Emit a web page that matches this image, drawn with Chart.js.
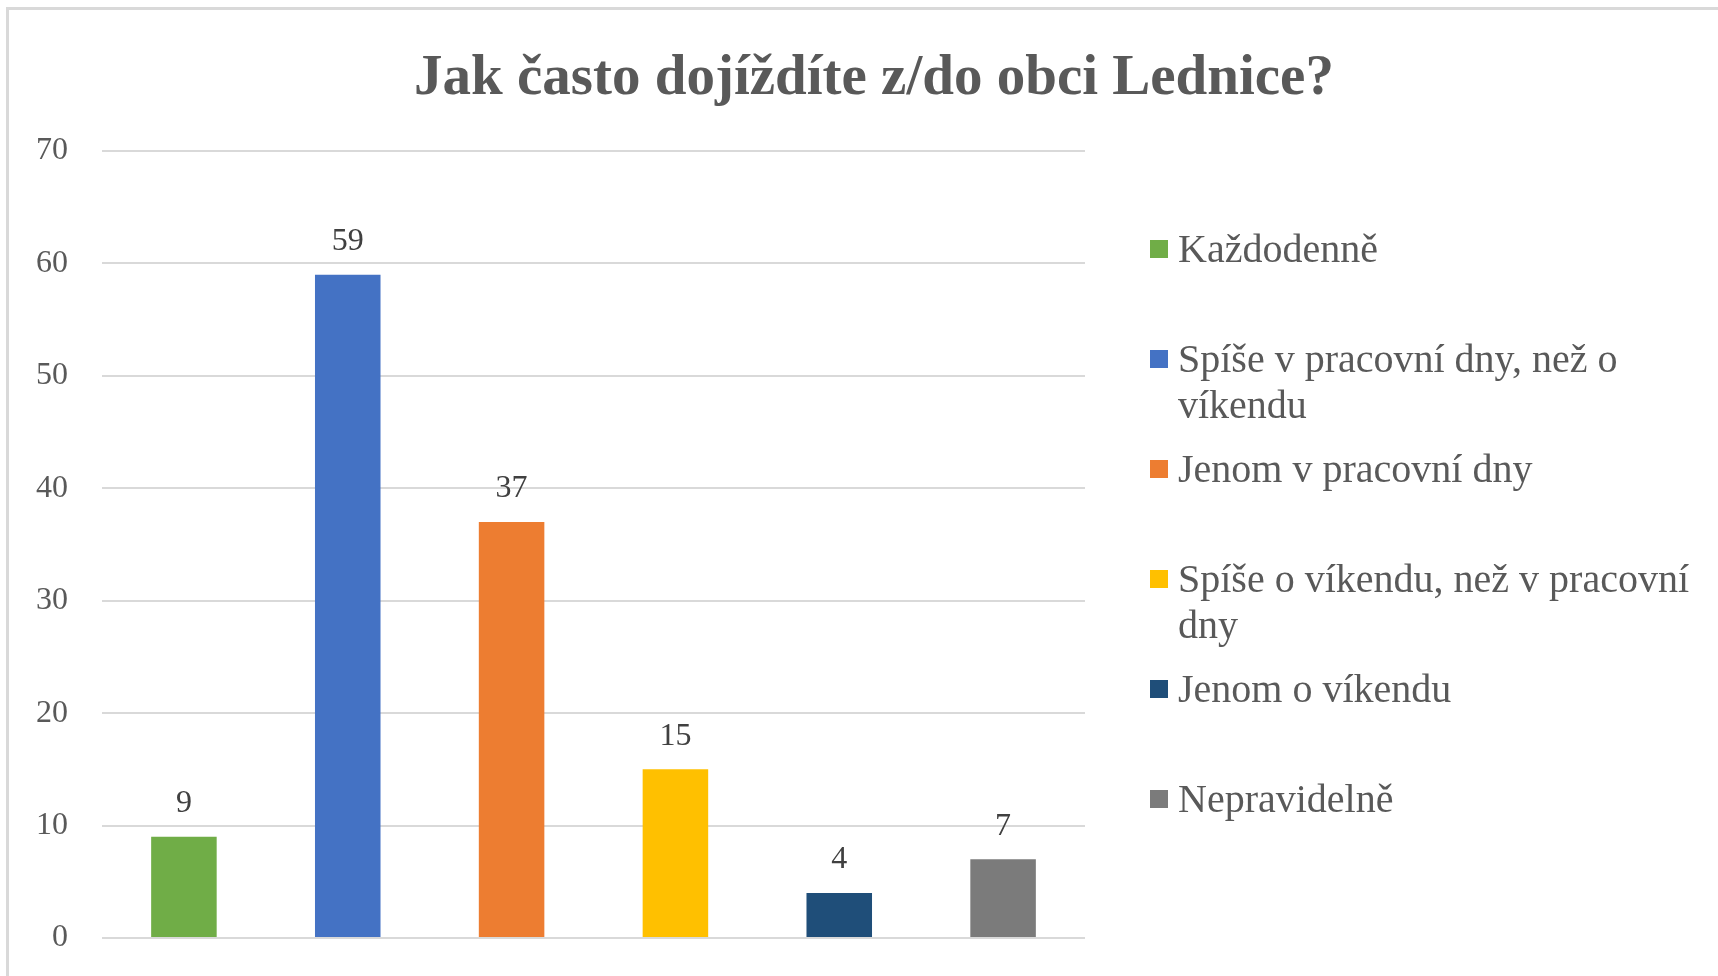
<!DOCTYPE html>
<html>
<head>
<meta charset="utf-8">
<script src="https://cdn.jsdelivr.net/npm/chart.js@4/dist/chart.umd.min.js"></script>
<style>
  html, body { margin: 0; padding: 0; background: #fff; }
  #wrap { position: relative; width: 1718px; height: 976px; overflow: hidden; font-family: "Liberation Serif", "Times New Roman", serif; }
  #frame { position: absolute; left: 6px; top: 7px; width: 1760px; height: 1000px; border: 3px solid #d9d9d9; box-sizing: border-box; }
  #title { position: absolute; left: 0; top: 43px; width: 1748px; text-align: center; font-weight: bold; font-size: 57px; line-height: 64px; color: #595959; }
  #chart { position: absolute; left: 0; top: 0; }
  #legend { position: absolute; left: 1150px; top: 226px; }
  .item { position: relative; height: 110px; }
  .box { position: absolute; left: 0; top: 14px; width: 18px; height: 18px; }
  .txt { position: absolute; left: 28px; top: 0; width: 530px; font-size: 40px; line-height: 46px; color: #595959; }
</style>
</head>
<body>
<div id="wrap">
  <div id="frame"></div>
  <canvas id="chart" width="1718" height="976"></canvas>
  <div id="title">Jak často dojíždíte z/do obci Lednice?</div>
  <div id="legend"></div>
</div>
<script>
'use strict';

// ============================================================
// DATA
// ============================================================
const categories = ['Každodenně', 'Spíše v pracovní dny, než o víkendu', 'Jenom v pracovní dny', 'Spíše o víkendu, než v pracovní dny', 'Jenom o víkendu', 'Nepravidelně'];
const values = [9, 59, 37, 15, 4, 7];
const barColors = ['#70ad47', '#4472c4', '#ed7d31', '#ffc000', '#1f4e79', '#7b7b7b'];
const yTicks = [0, 10, 20, 30, 40, 50, 60, 70];

const serif = '"Liberation Serif", "Times New Roman", serif';

// value labels above the bars (no datalabels plugin available)
const valueLabels = {
  id: 'valueLabels',
  afterDatasetsDraw(chart) {
    const ctx = chart.ctx;
    const meta = chart.getDatasetMeta(0);
    ctx.save();
    ctx.font = '32px ' + serif;
    ctx.fillStyle = '#404040';
    ctx.textAlign = 'center';
    ctx.textBaseline = 'middle';
    meta.data.forEach((bar, i) => {
      ctx.fillText(String(values[i]), bar.x, bar.y - 33);
    });
    ctx.restore();
  }
};

new Chart(document.getElementById('chart').getContext('2d'), {
  type: 'bar',
  data: {
    labels: categories,
    datasets: [{ data: values, backgroundColor: barColors, borderWidth: 0, barPercentage: 0.4, categoryPercentage: 1.0 }]
  },
  options: {
    responsive: false,
    animation: false,
    layout: { padding: { left: 0, right: 633, top: 151, bottom: 38 } },
    plugins: { legend: { display: false }, tooltip: { enabled: false }, title: { display: false } },
    scales: {
      x: { display: false },
      y: {
        min: yTicks[0], max: yTicks[yTicks.length - 1],
        afterBuildTicks: s => { s.ticks = yTicks.map(v => ({ value: v })); },
        // fixed axis width, and no extra room for tick label overflow
        afterFit: s => { s.width = 102; s.paddingTop = 0; s.paddingBottom = 0; },
        border: { display: false },
        grid: { color: '#d9d9d9', lineWidth: 2, drawTicks: false },
        ticks: { color: '#595959', font: { family: serif, size: 32 }, padding: 34 }
      }
    }
  },
  plugins: [valueLabels]
});

// legend with wrapping labels, like the Excel one
const legendEl = document.getElementById('legend');
legendEl.innerHTML = categories.map((c, i) =>
  `<div class="item"><div class="box" style="background:${barColors[i]}"></div><div class="txt">${c}</div></div>`
).join('');
</script>
</body>
</html>
